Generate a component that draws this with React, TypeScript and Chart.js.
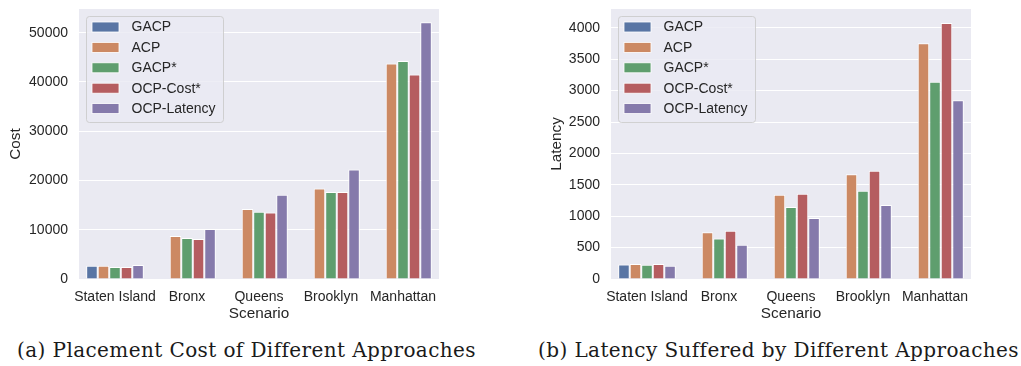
import React, { useEffect, useRef } from "react";
import { Chart, registerables } from "chart.js";

Chart.register(...registerables);

// ---------- data ----------
const categories = ["Staten Island", "Bronx", "Queens", "Brooklyn", "Manhattan"];
const seriesNames = ["GACP", "ACP", "GACP*", "OCP-Cost*", "OCP-Latency"];
const seriesColors = ["#5975A4", "#CC8963", "#5F9E6E", "#B55D60", "#857AAB"];

const costGACP = [2700, 0, 0, 0, 0];
const costACP = [2700, 8720, 14190, 18390, 43730];
const costGACPStar = [2430, 8310, 13640, 17640, 44250];
const costOCPCost = [2430, 8110, 13520, 17640, 41500];
const costOCPLatency = [2840, 10140, 17090, 22240, 52100];

const latGACP = [232, 0, 0, 0, 0];
const latACP = [238, 746, 1343, 1667, 3755];
const latGACPStar = [227, 644, 1148, 1406, 3143];
const latOCPCost = [238, 767, 1359, 1724, 4079];
const latOCPLatency = [211, 544, 973, 1177, 2846];

const costTicks = [0, 10000, 20000, 30000, 40000, 50000];
const latTicks = [0, 500, 1000, 1500, 2000, 2500, 3000, 3500, 4000];
const costMax = 54800;
const latMax = 4300;

const xTitle = "Scenario";
const captionA = "(a) Placement Cost of Different Approaches";
const captionB = "(b) Latency Suffered by Different Approaches";

// ---------- style ----------
const TEXT = "#262626";
const SANS = "'Liberation Sans', Arial, sans-serif";
const PLOT_BG = "#EAEAF2";

const bgPlugin = {
  id: "plotBg",
  beforeDraw(chart: any) {
    const { ctx, chartArea } = chart;
    ctx.save();
    ctx.fillStyle = PLOT_BG;
    ctx.fillRect(chartArea.left, chartArea.top, chartArea.right - chartArea.left, chartArea.bottom - chartArea.top);
    ctx.restore();
  },
};

const legendPlugin = {
  id: "boxLegend",
  afterDatasetsDraw(chart: any) {
    const { ctx, chartArea } = chart;
    const x0 = chartArea.left + 7;
    const y0 = chartArea.top + 7;
    const w = 137;
    const h = 106;
    ctx.save();
    ctx.beginPath();
    (ctx as any).roundRect(x0 + 0.5, y0 + 0.5, w, h, 3);
    ctx.fillStyle = "rgba(234,234,242,0.8)";
    ctx.fill();
    ctx.strokeStyle = "rgba(204,204,204,0.9)";
    ctx.lineWidth = 1;
    ctx.stroke();
    chart.data.datasets.forEach((ds: any, i: number) => {
      const cy = y0 + 11 + i * 20.4;
      ctx.fillStyle = ds.backgroundColor;
      ctx.fillRect(x0 + 6, cy - 5, 27, 10);
      ctx.strokeStyle = "#ffffff";
      ctx.lineWidth = 0.8;
      ctx.strokeRect(x0 + 6, cy - 5, 27, 10);
      ctx.fillStyle = TEXT;
      ctx.font = `14px ${SANS}`;
      ctx.textBaseline = "middle";
      ctx.textAlign = "left";
      ctx.fillText(ds.label, x0 + 45.5, cy + 0.5);
    });
    ctx.restore();
  },
};

function makeConfig(series: number[][], yLabel: string, yMax: number, yTicks: number[], yWidth: number, padRight: number, yTitlePad: number) {
  return {
    type: "bar" as const,
    data: {
      labels: categories,
      datasets: series.map((vals, i) => ({
        label: seriesNames[i],
        data: vals,
        backgroundColor: seriesColors[i],
        borderColor: "#ffffff",
        borderWidth: 1,
        categoryPercentage: 0.8,
        barPercentage: 1.0,
      })),
    },
    options: {
      animation: false,
      responsive: false,
      devicePixelRatio: 1,
      layout: { padding: { left: 0, top: 9, right: padRight, bottom: 0 } },
      plugins: {
        legend: { display: false },
        tooltip: { enabled: false },
      },
      scales: {
        x: {
          grid: { display: false, drawTicks: false },
          border: { display: false },
          ticks: { color: TEXT, font: { family: SANS, size: 14 }, padding: 9.5, maxRotation: 0, autoSkip: false },
          title: { display: true, text: xTitle, color: TEXT, font: { family: SANS, size: 15.3 }, padding: { top: 0, bottom: 7 } },
          afterFit(scale: any) {
            scale.height = 51;
            scale.paddingLeft = 0;
            scale.paddingRight = 0;
          },
        },
        y: {
          min: 0,
          max: yMax,
          grid: { color: "#ffffff", lineWidth: 1, drawTicks: false },
          border: { display: false },
          ticks: {
            color: TEXT,
            font: { family: SANS, size: 14 },
            padding: 11,
            callback: (v: any) => String(v),
          },
          afterBuildTicks(scale: any) {
            scale.ticks = yTicks.map((v) => ({ value: v }));
          },
          title: { display: true, text: yLabel, color: TEXT, font: { family: SANS, size: 15.3 }, padding: { top: yTitlePad, bottom: 0 } },
          afterFit(scale: any) {
            scale.width = yWidth;
            scale.paddingTop = 0;
            scale.paddingBottom = 0;
          },
        },
      },
    },
    plugins: [bgPlugin, legendPlugin],
  };
}

function BarChart(props: { series: number[][]; yLabel: string; yMax: number; yTicks: number[]; yWidth: number; padRight: number; yTitlePad: number }) {
  const ref = useRef<HTMLCanvasElement>(null);
  useEffect(() => {
    if (!ref.current) return;
    const chart = new Chart(ref.current, makeConfig(props.series, props.yLabel, props.yMax, props.yTicks, props.yWidth, props.padRight, props.yTitlePad) as any);
    return () => chart.destroy();
  }, []);
  return <canvas ref={ref} width={460} height={330} style={{ display: "block" }} />;
}

const captionStyle: React.CSSProperties = {
  position: "absolute",
  top: 337,
  fontFamily: "'DejaVu Serif', serif",
  fontSize: 20,
  letterSpacing: 0.4,
  color: "#1a1a1a",
  textAlign: "center",
  whiteSpace: "nowrap",
  lineHeight: "26px",
};

export default function App() {
  return (
    <div style={{ position: "fixed", left: 0, top: 0, width: 1021, height: 366, background: "#ffffff", overflow: "hidden" }}>
      <div style={{ position: "absolute", left: 0, top: 0 }}>
        <BarChart
          series={[costGACP, costACP, costGACPStar, costOCPCost, costOCPLatency]}
          yLabel="Cost"
          yMax={costMax}
          yTicks={costTicks}
          yWidth={79}
          padRight={21}
          yTitlePad={6.6}
        />
      </div>
      <div style={{ position: "absolute", left: 530, top: 0 }}>
        <BarChart
          series={[latGACP, latACP, latGACPStar, latOCPCost, latOCPLatency]}
          yLabel="Latency"
          yMax={latMax}
          yTicks={latTicks}
          yWidth={81}
          padRight={19}
          yTitlePad={17.8}
        />
      </div>
      <div style={{ ...captionStyle, left: 0, width: 493 }}>{captionA}</div>
      <div style={{ ...captionStyle, left: 536, width: 485 }}>{captionB}</div>
    </div>
  );
}
